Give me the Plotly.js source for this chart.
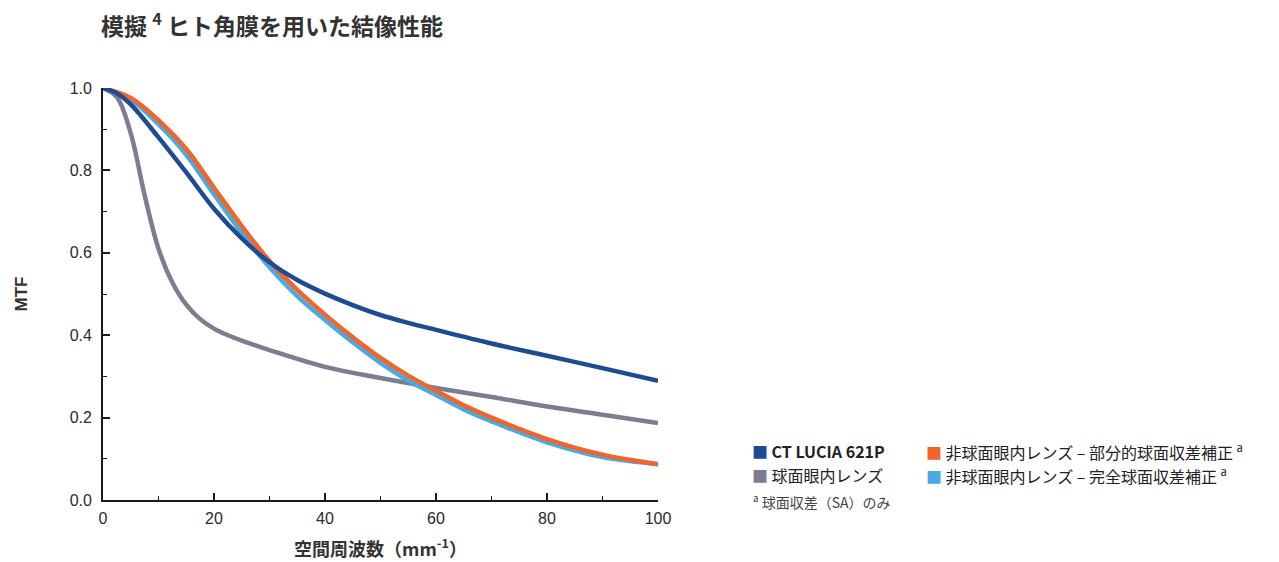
<!DOCTYPE html>
<html>
<head>
<meta charset="utf-8">
<script src="https://cdn.plot.ly/plotly-3.0.1.min.js"></script>
<style>
html,body{margin:0;padding:0;background:#fff;}
#chart{width:1279px;height:562px;}
</style>
</head>
<body>
<div id="chart"></div>
<script>
// Spatial frequency (mm^-1) and MTF values
const xLucia = [0, 2.5, 5, 10, 15, 20, 25, 30, 35, 40, 45, 50, 55, 60, 70, 80, 90, 100];
const yLucia = [1.0, 0.987, 0.96, 0.88, 0.795, 0.707, 0.635, 0.577, 0.534, 0.501, 0.473, 0.449, 0.430, 0.413, 0.380, 0.350, 0.320, 0.289];

const xSpherical = [0, 2.5, 5, 7.5, 10, 12.5, 15, 17.5, 20, 22.5, 25, 30, 40, 50, 60, 70, 80, 90, 100];
const ySpherical = [1.0, 0.978, 0.89, 0.74, 0.61, 0.528, 0.474, 0.439, 0.416, 0.400, 0.387, 0.364, 0.323, 0.296, 0.272, 0.250, 0.227, 0.207, 0.187];

const xPartial = [0, 5, 10, 15, 20, 25, 30, 35, 40, 45, 50, 55, 60, 65, 70, 80, 90, 100];
const yPartial = [1.0, 0.976, 0.922, 0.852, 0.758, 0.665, 0.580, 0.510, 0.450, 0.395, 0.345, 0.302, 0.265, 0.230, 0.200, 0.148, 0.110, 0.087];

const xFull = [0, 5, 10, 15, 20, 25, 30, 35, 40, 45, 50, 55, 60, 65, 70, 80, 90, 100];
const yFull = [1.0, 0.972, 0.912, 0.838, 0.742, 0.648, 0.565, 0.495, 0.437, 0.383, 0.333, 0.290, 0.255, 0.220, 0.191, 0.140, 0.104, 0.087];

const seriesNames = [
  'CT LUCIA 621P',
  '球面眼内レンズ',
  '非球面眼内レンズ – 部分的球面収差補正 <sup>a</sup>',
  '非球面眼内レンズ – 完全球面収差補正 <sup>a</sup>'
];
const xTickVals = [0, 20, 40, 60, 80, 100];
const yTickVals = [0, 0.2, 0.4, 0.6, 0.8, 1.0];

const cLucia = '#1f4b92', cSph = '#7c7e90', cPart = '#f0652c', cFull = '#4aa9df';
const FONT = 'Liberation Sans, Arial, Noto Sans CJK JP, sans-serif';
const JFONT = 'Noto Sans CJK JP, Liberation Sans, sans-serif';

const traces = [
  {x: xSpherical, y: ySpherical, name: seriesNames[1], mode: 'lines', line: {color: cSph, width: 4.5, shape: 'spline', smoothing: 1}},
  {x: xFull, y: yFull, name: seriesNames[3], mode: 'lines', line: {color: cFull, width: 4.5, shape: 'spline', smoothing: 1}},
  {x: xPartial, y: yPartial, name: seriesNames[2], mode: 'lines', line: {color: cPart, width: 4.5, shape: 'spline', smoothing: 1}},
  {x: xLucia, y: yLucia, name: seriesNames[0], mode: 'lines', line: {color: cLucia, width: 4.5, shape: 'spline', smoothing: 1}}
];

function px2paperX(px){ return (px - 103) / 555; }
function px2paperY(py){ return (500 - py) / 412; }

function legendItem(px, py, color, text, bold){
  return {
    xref: 'paper', yref: 'paper', x: px2paperX(px), y: px2paperY(py),
    xanchor: 'left', yanchor: 'middle', showarrow: false,
    text: '<span style="color:' + color + '">■</span> ' + (bold ? '<b>' + text + '</b>' : text),
    font: {family: JFONT, size: 16, color: '#222'}
  };
}

const layout = {
  width: 1279, height: 562,
  paper_bgcolor: '#fff', plot_bgcolor: '#fff',
  margin: {l: 103, r: 621, t: 88, b: 62},
  showlegend: false,
  title: {
    text: '<b>模擬 <sup>4</sup> ヒト角膜を用いた結像性能</b>',
    x: 101 / 1279, xanchor: 'left', y: 1 - 27 / 562, yanchor: 'middle',
    font: {family: JFONT, size: 23, color: '#333'}
  },
  xaxis: {
    range: [0, 100], tickvals: xTickVals, ticks: 'inside', ticklen: 7, tickwidth: 1.6, tickcolor: '#1a1a1a',
    showline: true, linecolor: '#1a1a1a', linewidth: 1.8, showgrid: false, zeroline: false,
    minor: {dtick: 10, ticks: 'inside', ticklen: 4, tickwidth: 1.3, tickcolor: '#1a1a1a', showgrid: false},
    tickfont: {family: FONT, size: 16, color: '#2a2a2a'},
    ticklabelstandoff: 3,
    title: {text: '<b>空間周波数（mm<sup>-1</sup>）</b>', standoff: 17, font: {family: JFONT, size: 18, color: '#333'}}
  },
  yaxis: {
    range: [0, 1.0], tickvals: yTickVals, tickformat: '.1f', ticks: 'inside', ticklen: 7, tickwidth: 1.6, tickcolor: '#1a1a1a',
    showline: true, linecolor: '#1a1a1a', linewidth: 1.8, showgrid: false, zeroline: false,
    minor: {dtick: 0.1, ticks: 'inside', ticklen: 4, tickwidth: 1.3, tickcolor: '#1a1a1a', showgrid: false},
    tickfont: {family: FONT, size: 16, color: '#2a2a2a'},
    ticklabelstandoff: 6,
    title: {text: '<b>MTF</b>', standoff: 38, font: {family: FONT, size: 17, color: '#333'}}
  },
  annotations: [
    legendItem(750, 451, cLucia, seriesNames[0], true),
    legendItem(924, 451, cPart, seriesNames[2], false),
    legendItem(750, 475, cSph, seriesNames[1], false),
    legendItem(924, 475, cFull, seriesNames[3], false),
    {xref: 'paper', yref: 'paper', x: px2paperX(751), y: px2paperY(501), xanchor: 'left', yanchor: 'middle',
     showarrow: false, text: '<sup>a</sup> 球面収差（SA）のみ', font: {family: JFONT, size: 14, color: '#444'}}
  ]
};

Plotly.newPlot('chart', traces, layout, {displayModeBar: false});
</script>
</body>
</html>
